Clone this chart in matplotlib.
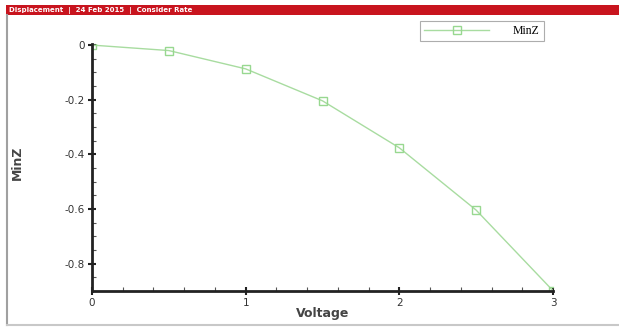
import matplotlib
matplotlib.use("Agg")
import matplotlib.pyplot as plt
from matplotlib.ticker import MultipleLocator, FuncFormatter
from matplotlib.patches import Rectangle
from matplotlib.lines import Line2D

voltage = [0, 0.5, 1.0, 1.5, 2.0, 2.5, 3.0]
minz = [0.0, -0.020, -0.087, -0.204, -0.376, -0.604, -0.899]
series_name = "MinZ"
title_text = "Displacement  |  24 Feb 2015  |  Consider Rate"
xlabel = "Voltage"
ylabel = "MinZ"

W, H = 619, 327
fig = plt.figure(figsize=(W / 100, H / 100), dpi=100)
fig.patch.set_facecolor("white")

# frame and title bar
fig.add_artist(Rectangle((6 / W, 1 - 15 / H), 1 - 6 / W, 10 / H,
                         transform=fig.transFigure, facecolor="#c8141e",
                         edgecolor="none"))
fig.text(9 / W, 1 - 10 / H, title_text, color="white", fontsize=5,
         fontweight="bold", va="center", ha="left")
fig.add_artist(Line2D([7 / W, 7 / W], [1 - 15 / H, 1 - 325 / H],
                      transform=fig.transFigure, color="#a0a0a0", lw=1.5))
fig.add_artist(Line2D([7 / W, 1], [1 - 325 / H, 1 - 325 / H],
                      transform=fig.transFigure, color="#c8c8c8", lw=1.5))

ax = fig.add_axes([92 / W, 1 - 291 / H, (553 - 92) / W, (291 - 44) / H])
ax.plot(voltage, minz, color="#a8dca0", lw=1.0, marker="s", ms=5.5,
        mfc="none", mec="#98d890", mew=1.0, label=series_name)

ax.set_xlim(0, 3)
ax.set_ylim(-0.9, 0.004)
for s in ["top", "right"]:
    ax.spines[s].set_visible(False)
for s in ["left", "bottom"]:
    ax.spines[s].set_linewidth(2)
    ax.spines[s].set_color("#222222")

ax.xaxis.set_major_locator(MultipleLocator(1))
ax.xaxis.set_minor_locator(MultipleLocator(0.2))
ax.yaxis.set_major_locator(MultipleLocator(0.2))
ax.yaxis.set_minor_locator(MultipleLocator(0.05))
ax.yaxis.set_major_formatter(FuncFormatter(lambda v, p: "0" if abs(v) < 1e-9 else f"{v:g}"))
ax.tick_params(which="major", direction="inout", length=6, width=1.5,
               labelsize=7.5, colors="#222222", labelcolor="#333333", pad=2)
ax.tick_params(which="minor", direction="in", length=3, width=0.8, colors="#555555")

ax.set_xlabel(xlabel, fontsize=9, fontweight="bold", color="#444444")
ax.xaxis.set_label_coords(0.5, -16 / (291 - 44))
ax.set_ylabel(ylabel, fontsize=9, fontweight="bold", color="#444444")
ax.yaxis.set_label_coords(-68 / (553 - 92), 0.52)

leg = ax.legend(loc="upper left", bbox_to_anchor=((420 - 92) / (553 - 92), 1.095),
                frameon=True, fancybox=False, edgecolor="#999999",
                prop={"family": "Liberation Serif", "size": 8.5},
                handlelength=5.5, borderpad=0.35, handletextpad=2.0,
                borderaxespad=0)
leg.get_frame().set_linewidth(0.8)

fig.savefig("out.png", dpi=100, facecolor="white")
